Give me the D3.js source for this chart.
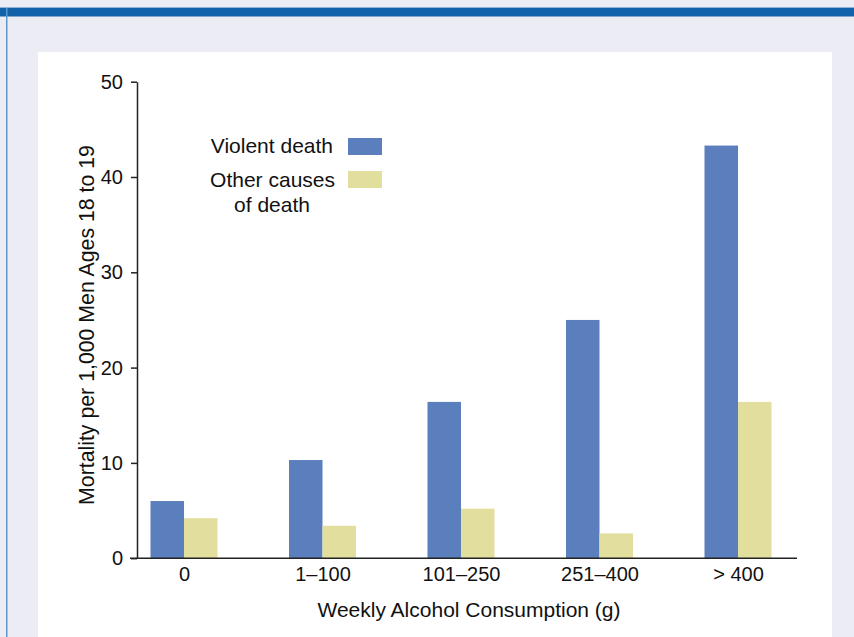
<!DOCTYPE html>
<html>
<head>
<meta charset="utf-8">
<script src="https://cdn.jsdelivr.net/npm/d3@7"></script>
<style>
  body { margin: 0; background: #ececf4; }
  svg { display: block; font-family: "Liberation Sans", Arial, sans-serif; }
</style>
</head>
<body>
<div id="chart"></div>
<script>
  // data
  const categories = ["0", "1\u2013100", "101\u2013250", "251\u2013400", "> 400"];
  const violentDeath = [6.0, 10.3, 16.4, 25.0, 43.3];
  const otherCauses = [4.2, 3.4, 5.2, 2.6, 16.4];
  const yTicks = [0, 10, 20, 30, 40, 50];

  const W = 854, H = 637;
  const FONT = "Liberation Sans, Arial, sans-serif";
  const svg = d3.select("#chart").append("svg")
    .attr("width", W).attr("height", H);

  // page frame
  svg.append("rect").attr("width", W).attr("height", H).attr("fill", "#ececf4");
  svg.append("rect").attr("x", 0).attr("y", 7).attr("width", W).attr("height", 1.5).attr("fill", "#8fb5dc");
  svg.append("rect").attr("x", 0).attr("y", 8).attr("width", W).attr("height", 8.5).attr("fill", "#1262a9");
  svg.append("rect").attr("x", 6).attr("y", 8).attr("width", 1.5).attr("height", H).attr("fill", "#5e97cb");
  svg.append("rect").attr("x", 38).attr("y", 52).attr("width", 794).attr("height", H - 52).attr("fill", "#fff");

  const y = d3.scaleLinear().domain([0, 50]).range([558.2, 81.7]);
  const x = d3.scalePoint().domain(categories).range([184, 738]);
  const barW = 33.5;

  const data = categories.map((c, i) => ({ cat: c, v: violentDeath[i], o: otherCauses[i] }));

  // bars
  svg.selectAll(".bv").data(data).join("rect")
    .attr("x", d => x(d.cat) - barW)
    .attr("y", d => y(d.v))
    .attr("width", barW)
    .attr("height", d => y(0) - y(d.v))
    .attr("fill", "#5b7fbd");
  svg.selectAll(".bo").data(data).join("rect")
    .attr("x", d => x(d.cat))
    .attr("y", d => y(d.o))
    .attr("width", barW)
    .attr("height", d => y(0) - y(d.o))
    .attr("fill", "#e2de9e");

  // y axis
  const yAxis = svg.append("g")
    .attr("transform", "translate(137,0)")
    .call(d3.axisLeft(y).tickValues(yTicks).tickSize(6).tickSizeOuter(0).tickPadding(8));
  yAxis.attr("font-size", null).attr("font-family", null);
  yAxis.select(".domain").attr("stroke", "#222").attr("stroke-width", 1.5);
  yAxis.selectAll(".tick line").attr("stroke", "#222").attr("stroke-width", 1.5);
  yAxis.selectAll("text").style("font-size", "20px").attr("fill", "#111").style("font-family", FONT);

  // x axis
  const xAxis = svg.append("g")
    .attr("transform", `translate(0,${y(0)})`)
    .call(d3.axisBottom(x).tickSize(0).tickPadding(9));
  xAxis.attr("font-size", null).attr("font-family", null);
  xAxis.select(".domain").remove();
  xAxis.selectAll("text").style("font-size", "20px").attr("fill", "#111").style("font-family", FONT);
  svg.append("line")
    .attr("x1", 130).attr("x2", 797)
    .attr("y1", y(0)).attr("y2", y(0))
    .attr("stroke", "#222").attr("stroke-width", 1.5);

  // axis titles
  svg.append("text")
    .attr("x", 469).attr("y", 617)
    .attr("text-anchor", "middle")
    .style("font-size", "21px").attr("fill", "#111")
    .text("Weekly Alcohol Consumption (g)");
  svg.append("text")
    .attr("transform", "translate(94,325) rotate(-90)")
    .attr("text-anchor", "middle")
    .style("font-size", "21.3px").attr("fill", "#111")
    .text("Mortality per 1,000 Men Ages 18 to 19");

  // legend
  const legend = svg.append("g").style("font-size", "21px").attr("fill", "#111");
  legend.append("text").attr("x", 333).attr("y", 153).attr("text-anchor", "end").text("Violent death");
  legend.append("rect").attr("x", 348).attr("y", 138).attr("width", 34).attr("height", 17).attr("fill", "#5b7fbd");
  legend.append("text").attr("x", 335).attr("y", 187).attr("text-anchor", "end").text("Other causes");
  legend.append("text").attr("x", 272).attr("y", 212).attr("text-anchor", "middle").text("of death");
  legend.append("rect").attr("x", 348).attr("y", 171).attr("width", 34).attr("height", 17).attr("fill", "#e2de9e");
</script>
</body>
</html>
